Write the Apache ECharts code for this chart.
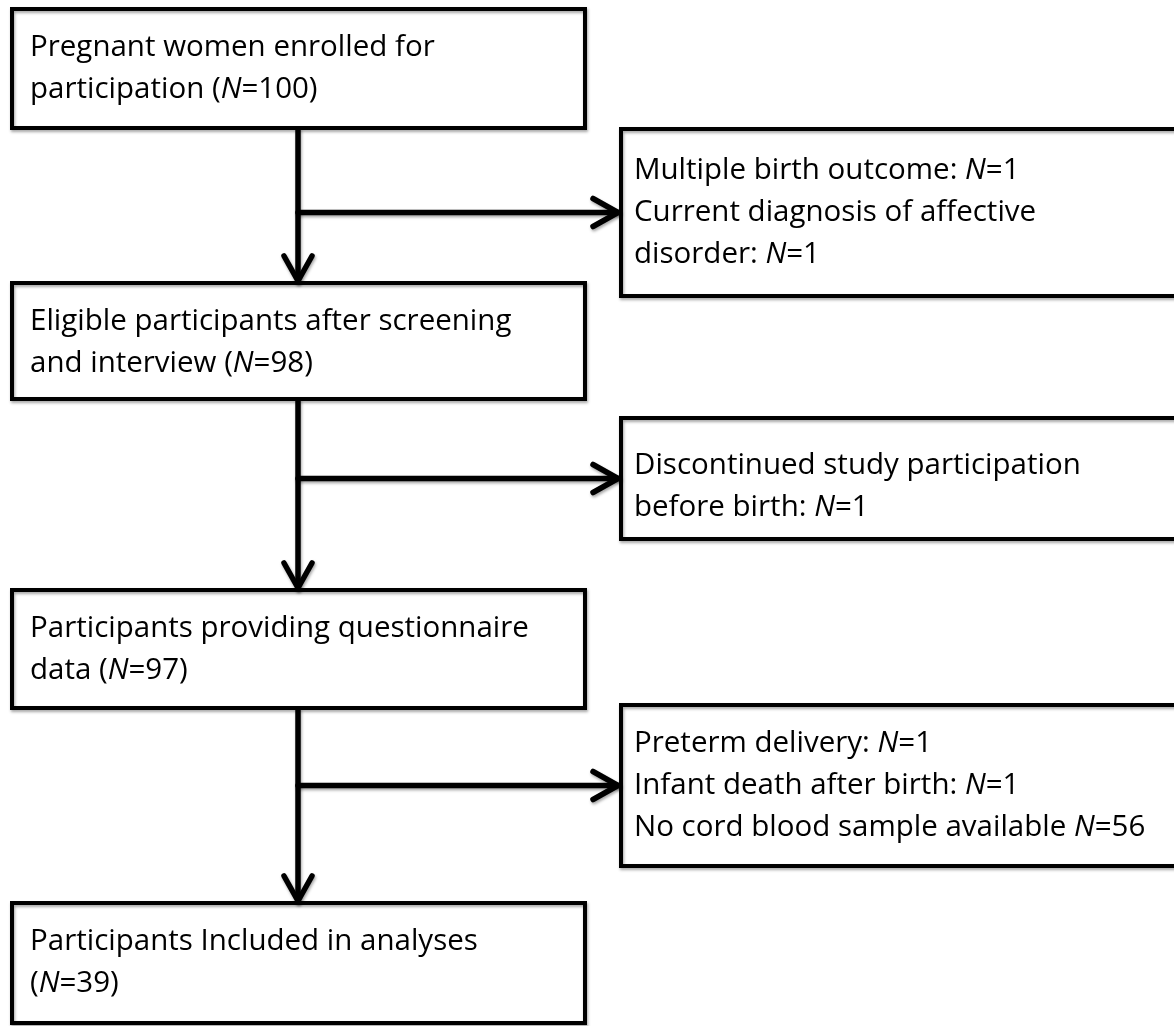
<!DOCTYPE html>
<html>
<head>
<meta charset="utf-8">
<script src="https://cdn.jsdelivr.net/npm/echarts/dist/echarts.min.js"></script>
<style>
html,body{margin:0;padding:0;background:#fff;}
#chart{width:1174px;height:1026px;}
</style>
</head>
<body>
<div id="chart"></div>
<script>
// ---- data ----
const stepTemplates = [
  ['Pregnant women enrolled for', 'participation (#)'],
  ['Eligible participants after screening', 'and interview (#)'],
  ['Participants providing questionnaire', 'data (#)'],
  ['Participants Included in analyses', '(#)']
];
const stepN = [100, 98, 97, 39];

const exclusionTemplates = [
  ['Multiple birth outcome: #', 'Current diagnosis of affective', 'disorder: #'],
  ['Discontinued study participation', 'before birth: #'],
  ['Preterm delivery: #', 'Infant death after birth: #', 'No cord blood sample available #']
];
const exclusionN = [[1, 1], [1], [1, 1, 56]];

// ---- layout ----
const FONT = 'Open Sans';
function fitSize(sample, target) {
  const c = document.createElement('canvas').getContext('2d');
  c.font = '100px "' + FONT + '"';
  return 100 * target / c.measureText(sample).width;
}
const fontSize = fitSize(stepTemplates[0][0], 405);
const lineH = 42;

const leftX = 12, leftW = 573, spineX = 298;
const rightX = 621, rightW = 570;
const leftBoxes = [[9, 128], [283, 399], [590, 708], [903, 1023]];
const rightBoxes = [[129, 296], [418, 539], [705, 866]];
const rightTextShift = [0, 8, 0];

function fillN(tpl, nums) {
  let k = 0;
  return tpl.map(line => line.replace('#', () => '{i|N}=' + nums[k++]));
}

const els = [];
const shadow = { shadowBlur: 3, shadowOffsetX: 1, shadowOffsetY: 2, shadowColor: 'rgba(0,0,0,0.35)' };
function box(x, y0, y1, w) {
  els.push({ type: 'rect', shape: { x: x, y: y0, width: w, height: y1 - y0 },
    style: Object.assign({ fill: 'none', stroke: '#000', lineWidth: 4 }, shadow), z: 2 });
}
function textLine(str, x, y) {
  els.push({ type: 'text', z: 3, style: {
    text: str, x: x, y: y, fill: '#000', fontSize: fontSize, fontFamily: FONT,
    verticalAlign: 'middle', align: 'left',
    rich: { i: { fontStyle: 'italic', fontSize: fontSize, fontFamily: FONT, fill: '#000' } }
  }});
}
function line(pts) {
  els.push({ type: 'polyline', z: 1, shape: { points: pts },
    style: Object.assign({ stroke: '#000', lineWidth: 5.5, lineCap: 'round', lineJoin: 'round', fill: 'none' }, shadow) });
}

// left (main) boxes
leftBoxes.forEach((b, i) => {
  box(leftX, b[0], b[1], leftW);
  const lines = fillN(stepTemplates[i], [stepN[i]]);
  lines.forEach((s, j) => textLine(s, 30, b[0] + 39 + j * lineH));
});
// right (exclusion) boxes
rightBoxes.forEach((b, i) => {
  box(rightX, b[0], b[1], rightW);
  const lines = fillN(exclusionTemplates[i], exclusionN[i]);
  const cy = (b[0] + b[1]) / 2 + rightTextShift[i];
  lines.forEach((s, j) => textLine(s, 634, cy + (j - (lines.length - 1) / 2) * lineH));
});
// arrows
for (let i = 0; i < leftBoxes.length - 1; i++) {
  const y0 = leftBoxes[i][1] + 2, tip = leftBoxes[i + 1][0] - 2;
  line([[spineX, y0], [spineX, tip]]);
  line([[spineX - 14, tip - 25], [spineX, tip], [spineX + 14, tip - 25]]);
  const by = (rightBoxes[i][0] + rightBoxes[i][1]) / 2;
  const tx = rightX - 3;
  line([[spineX, by], [tx, by]]);
  line([[tx - 25, by - 14], [tx, by], [tx - 25, by + 14]]);
}

const chart = echarts.init(document.getElementById('chart'), null, { renderer: 'canvas' });
chart.setOption({ backgroundColor: '#fff', animation: false, graphic: { elements: els } });
</script>
</body>
</html>
